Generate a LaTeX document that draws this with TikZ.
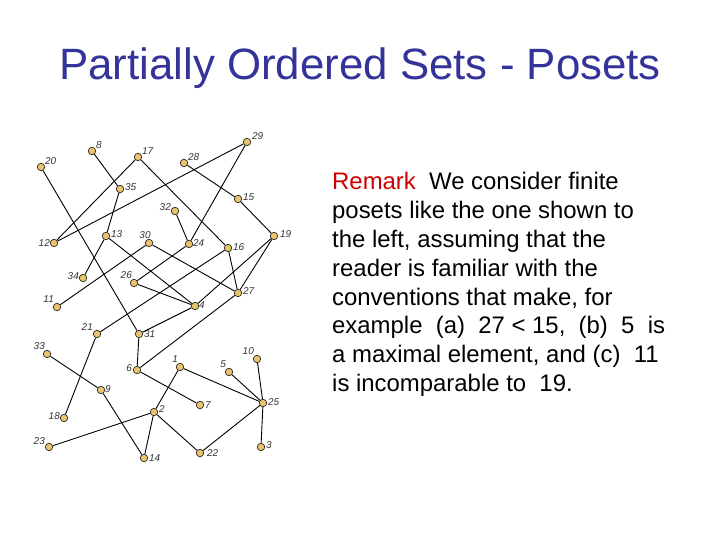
\documentclass[tikz,border=0pt]{standalone}
\usepackage{fontspec}
\setmainfont{Liberation Sans}
\definecolor{tan}{HTML}{E8C46C}
\definecolor{ttl}{HTML}{333399}
\begin{document}
\begin{tikzpicture}[x=1bp,y=-1bp,
  pt/.style={circle,draw=black!85,fill=tan,inner sep=0pt,minimum size=7.5bp,line width=0.7bp},
  lb/.style={font=\fontsize{10}{11}\selectfont\itshape,text=black!80,inner sep=1bp},
  ed/.style={line width=0.9bp}]
\useasboundingbox (0,0) rectangle (720,540);
\node[text=ttl,font=\fontsize{44}{50}\selectfont] (title) at (360,68) {Partially Ordered Sets - Posets};
\foreach \n/\x/\y in {20/41/167,8/92/151,17/138/157,28/184/163,29/247/142,
 35/120/189,15/238/199,32/175/211,12/54/243,13/106/236,30/149/243,
 24/189/244,16/228/248,19/274/236,34/83/278,26/134/283,27/238/293,
 11/57/307,4/195/306,21/97/334,31/139/334,33/47/354,10/257/359,
 1/180/367,5/229/372,6/137/370,9/101/390,25/263/403,7/200/405,
 2/154/412,18/64/418,23/49/447,3/261/447,22/200/453,14/144/458}
 {\node[pt] (n\n) at (\x,\y) {};}
\foreach \n/\a/\dx/\dy in {20/south west/3/-1,8/south west/3/-1,17/south west/3/-1,28/south west/3/-1,29/south west/4/-1,
 35/west/4/-2,15/west/4/-2,32/east/-3/-4,12/east/-3/0,13/west/4/-2,30/south/-4/-3,24/west/3/-1,16/west/4/-1,19/west/5/-2,
 34/east/-3/-2,26/south east/-1/-3,27/west/4/-2,11/south east/-2/-3,4/west/3/-1,21/south east/-3/-2,31/west/4/0,
 33/south east/-1/-3,10/south east/-2/-3,1/south east/-1/-3,5/south east/-2/-3,6/east/-4/-2,9/west/3/-1,25/west/4/-1,
 7/west/4/0,2/west/4/-3,18/east/-3/-2,23/south east/-3/-1,3/west/4/-2,22/west/6/0,14/west/4/0}
 {\node[lb,anchor=\a] (l\n) at ([xshift=\dx bp,yshift=-\dy bp]n\n) {\n};}
\foreach \a/\b in {20/31,8/35,35/13,13/34,17/12,29/12,17/16,28/15,15/19,29/24,32/24,24/26,30/11,30/27,13/4,26/4,
 16/27,16/21,19/4,19/27,27/6,4/31,31/6,21/18,33/9,9/14,6/7,1/2,1/25,5/25,10/25,25/3,25/22,2/22,2/14,2/23}
 \draw[ed] (n\a) -- (n\b);
\node[anchor=north west,align=left,font=\fontsize{24}{29}\selectfont,inner sep=0pt] (rem) at (332,172)
 {\textcolor{red!80!black}{Remark}\ \ We consider finite\\posets like the one shown to\\the left, assuming that the\\reader is familiar with the\\conventions that make, for\\example\ \ (a)\ \ 27 < 15,\ \ (b)\ \ 5\ \ is\\a maximal element, and (c)\ \ 11\\is incomparable to\ \ 19.};
\end{tikzpicture}
\end{document}
